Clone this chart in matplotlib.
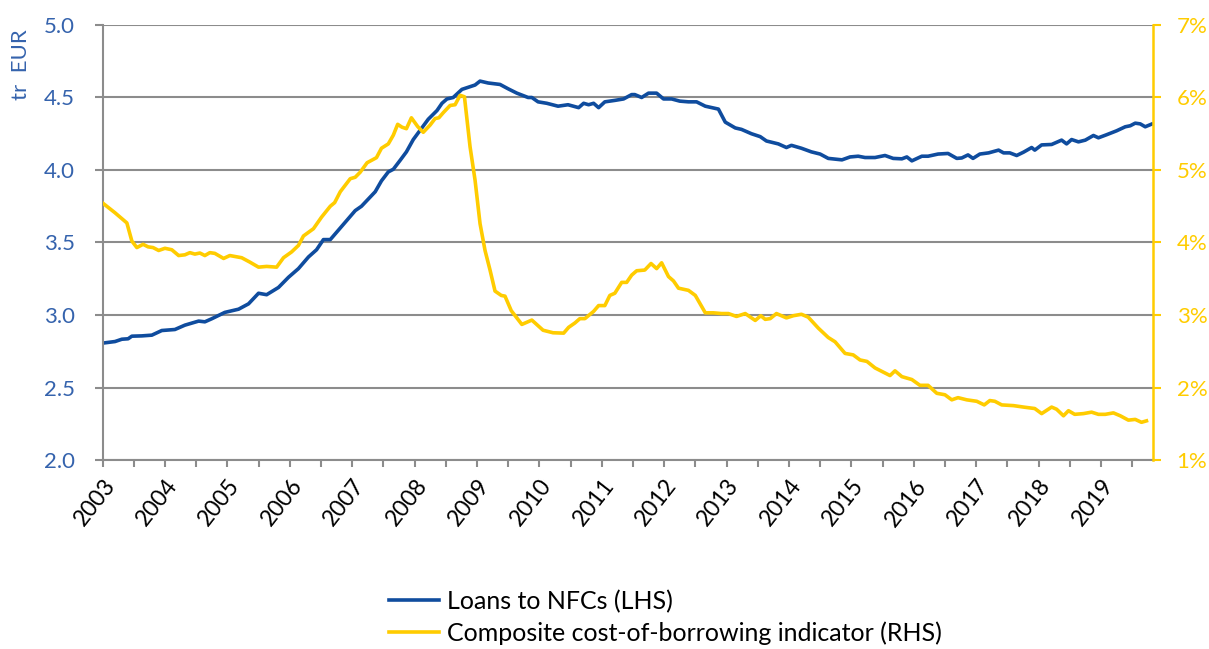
import matplotlib
matplotlib.use("Agg")
import matplotlib.pyplot as plt
from matplotlib.ticker import FixedLocator, MultipleLocator, FuncFormatter

# Loans to NFCs, EUR tr (LHS), decimal years
loans_t = [2003.0, 2003.2, 2003.31, 2003.41, 2003.47, 2003.63, 2003.79, 2003.95,
           2004.16, 2004.32, 2004.54, 2004.64, 2004.75, 2004.96, 2005.18, 2005.34,
           2005.5, 2005.63, 2005.82, 2005.98, 2006.14, 2006.3, 2006.43, 2006.54,
           2006.65, 2006.83, 2007.05, 2007.15, 2007.37, 2007.47, 2007.58, 2007.66,
           2007.77, 2007.87, 2007.98, 2008.11, 2008.22, 2008.36, 2008.44, 2008.52,
           2008.62, 2008.76, 2008.97, 2009.05, 2009.18, 2009.37, 2009.5, 2009.64,
           2009.82, 2009.88, 2009.98, 2010.12, 2010.3, 2010.46, 2010.63, 2010.71,
           2010.79, 2010.87, 2010.95, 2011.05, 2011.21, 2011.35, 2011.48, 2011.53,
           2011.64, 2011.75, 2011.88, 2011.99, 2012.12, 2012.25, 2012.39, 2012.52,
           2012.66, 2012.87, 2012.98, 2013.14, 2013.24, 2013.4, 2013.54, 2013.64,
           2013.83, 2013.96, 2014.04, 2014.2, 2014.36, 2014.5, 2014.63, 2014.85,
           2014.98, 2015.11, 2015.22, 2015.38, 2015.54, 2015.67, 2015.81, 2015.89,
           2015.97, 2016.13, 2016.23, 2016.39, 2016.55, 2016.69, 2016.77, 2016.87,
           2016.95, 2017.06, 2017.2, 2017.36, 2017.44, 2017.54, 2017.65, 2017.76,
           2017.89, 2017.94, 2018.05, 2018.21, 2018.37, 2018.45, 2018.53, 2018.64,
           2018.75, 2018.88, 2018.96, 2019.09, 2019.25, 2019.39, 2019.47, 2019.55,
           2019.63, 2019.71, 2019.81]
loans_v = [2.806, 2.817, 2.833, 2.836, 2.854, 2.856, 2.861, 2.893,
           2.90, 2.93, 2.958, 2.953, 2.974, 3.018, 3.04, 3.077,
           3.15, 3.14, 3.19, 3.26, 3.32, 3.40, 3.45, 3.52,
           3.52, 3.61, 3.72, 3.75, 3.85, 3.925, 3.987, 4.005,
           4.067, 4.125, 4.21, 4.286, 4.35, 4.41, 4.46, 4.49,
           4.50, 4.556, 4.586, 4.613, 4.60, 4.59, 4.56, 4.53,
           4.50, 4.50, 4.47, 4.46, 4.44, 4.45, 4.43, 4.46,
           4.45, 4.46, 4.43, 4.47, 4.48, 4.49, 4.52, 4.52,
           4.50, 4.53, 4.53, 4.49, 4.49, 4.475, 4.47, 4.47,
           4.44, 4.42, 4.33, 4.29, 4.28, 4.25, 4.23, 4.20,
           4.18, 4.155, 4.17, 4.15, 4.125, 4.11, 4.08, 4.07,
           4.09, 4.095, 4.086, 4.086, 4.10, 4.08, 4.077, 4.09,
           4.063, 4.095, 4.095, 4.11, 4.114, 4.08, 4.083, 4.104,
           4.08, 4.11, 4.118, 4.137, 4.118, 4.118, 4.10, 4.123,
           4.155, 4.137, 4.173, 4.176, 4.206, 4.18, 4.21, 4.194,
           4.206, 4.238, 4.222, 4.243, 4.27, 4.298, 4.305, 4.323,
           4.318, 4.298, 4.316]

# Composite cost-of-borrowing indicator, % (RHS)
cbi_t = [2003.0, 2003.2, 2003.39, 2003.47, 2003.55, 2003.65, 2003.73, 2003.81,
         2003.9, 2004.0, 2004.11, 2004.22, 2004.32, 2004.4, 2004.48, 2004.56,
         2004.64, 2004.72, 2004.8, 2004.94, 2005.04, 2005.23, 2005.36, 2005.5,
         2005.63, 2005.79, 2005.9, 2006.03, 2006.14, 2006.22, 2006.38, 2006.51,
         2006.65, 2006.72, 2006.81, 2006.97, 2007.05, 2007.13, 2007.24, 2007.39,
         2007.47, 2007.58, 2007.66, 2007.73, 2007.8, 2007.87, 2007.95, 2008.05,
         2008.14, 2008.25, 2008.33, 2008.39, 2008.46, 2008.57, 2008.65, 2008.73,
         2008.8, 2008.89, 2008.97, 2009.05, 2009.13, 2009.21, 2009.29, 2009.39,
         2009.45, 2009.55, 2009.72, 2009.88, 2010.06, 2010.22, 2010.39, 2010.47,
         2010.57, 2010.65, 2010.73, 2010.87, 2010.95, 2011.05, 2011.13, 2011.21,
         2011.32, 2011.4, 2011.48, 2011.56, 2011.69, 2011.79, 2011.88, 2011.96,
         2012.07, 2012.15, 2012.23, 2012.39, 2012.5, 2012.66, 2012.79, 2012.92,
         2013.03, 2013.16, 2013.3, 2013.46, 2013.55, 2013.62, 2013.7, 2013.8,
         2013.96, 2014.07, 2014.2, 2014.31, 2014.47, 2014.63, 2014.74, 2014.9,
         2015.03, 2015.14, 2015.25, 2015.38, 2015.54, 2015.62, 2015.7, 2015.81,
         2015.97, 2016.1, 2016.23, 2016.37, 2016.5, 2016.61, 2016.71, 2016.85,
         2017.01, 2017.13, 2017.22, 2017.3, 2017.41, 2017.6, 2017.76, 2017.94,
         2018.05, 2018.21, 2018.29, 2018.4, 2018.48, 2018.58, 2018.72, 2018.85,
         2018.96, 2019.07, 2019.2, 2019.31, 2019.44, 2019.55, 2019.65, 2019.73]
cbi_v = [4.546, 4.41, 4.27, 4.02, 3.93, 3.975, 3.94, 3.93,
         3.89, 3.92, 3.90, 3.82, 3.83, 3.86, 3.84, 3.855,
         3.82, 3.86, 3.85, 3.78, 3.82, 3.79, 3.73, 3.66,
         3.67, 3.66, 3.79, 3.87, 3.96, 4.09, 4.19, 4.35,
         4.50, 4.55, 4.70, 4.88, 4.90, 4.97, 5.10, 5.17,
         5.30, 5.36, 5.48, 5.63, 5.59, 5.57, 5.72, 5.60,
         5.52, 5.62, 5.71, 5.72, 5.79, 5.89, 5.90, 6.03,
         6.01, 5.32, 4.86, 4.26, 3.89, 3.62, 3.33, 3.27,
         3.26, 3.06, 2.87, 2.93, 2.79, 2.755, 2.75, 2.83,
         2.89, 2.95, 2.95, 3.05, 3.13, 3.13, 3.27, 3.30,
         3.45, 3.45, 3.55, 3.61, 3.62, 3.71, 3.64, 3.72,
         3.53, 3.47, 3.37, 3.34, 3.27, 3.03, 3.03, 3.02,
         3.02, 2.98, 3.02, 2.925, 2.99, 2.94, 2.95, 3.02,
         2.96, 2.99, 3.01, 2.97, 2.82, 2.69, 2.63, 2.47,
         2.45, 2.38, 2.36, 2.27, 2.20, 2.165, 2.23, 2.15,
         2.11, 2.03, 2.03, 1.92, 1.90, 1.83, 1.86, 1.83,
         1.81, 1.76, 1.82, 1.81, 1.76, 1.75, 1.73, 1.71,
         1.64, 1.73, 1.70, 1.61, 1.68, 1.63, 1.64, 1.66,
         1.63, 1.63, 1.65, 1.61, 1.55, 1.56, 1.52, 1.54]

years = list(range(2003, 2020))
left_ticks = [2.0, 2.5, 3.0, 3.5, 4.0, 4.5, 5.0]
right_ticks = [1, 2, 3, 4, 5, 6, 7]

BLUE = "#0F4C9E"
YELLOW = "#FFCC00"
LBLUE = "#3563AD"
GRID = "#8C8C8C"

plt.rcParams["font.family"] = ["Lato", "DejaVu Sans"]

fig = plt.figure(figsize=(12.09, 6.49), dpi=100)
ax = fig.add_axes([0.0848, 0.2912, 0.8689, 0.6703])
ax2 = ax.twinx()

l1, = ax.plot(loans_t, loans_v, color=BLUE, lw=2.6, label="Loans to NFCs (LHS)")
l2, = ax2.plot(cbi_t, cbi_v, color=YELLOW, lw=2.6,
               label="Composite cost-of-borrowing indicator (RHS)")

ax.set_xlim(2003.0, 2019.835)
ax.set_ylim(2.0, 5.0)
ax2.set_ylim(1, 7)

ax.yaxis.set_major_locator(FixedLocator(left_ticks))
ax.yaxis.set_major_formatter(FuncFormatter(lambda v, p: f"{v:.1f}"))
ax2.yaxis.set_major_locator(FixedLocator(right_ticks))
ax2.yaxis.set_major_formatter(FuncFormatter(lambda v, p: f"{v:.0f}%"))
ax.xaxis.set_major_locator(FixedLocator(years))
ax.xaxis.set_minor_locator(MultipleLocator(0.5))

ax.grid(axis="y", color=GRID, lw=1.5)
ax.set_axisbelow(True)

for a in (ax, ax2):
    a.spines["top"].set_visible(False)
ax.spines["right"].set_visible(False)
ax2.spines["left"].set_visible(False)
ax2.spines["bottom"].set_visible(False)
ax.spines["left"].set_color(GRID)
ax.spines["left"].set_linewidth(1.5)
ax.spines["bottom"].set_color(GRID)
ax.spines["bottom"].set_linewidth(1.5)
ax2.spines["right"].set_color(YELLOW)
ax2.spines["right"].set_linewidth(1.8)

ax.tick_params(axis="y", colors=GRID, labelcolor=LBLUE, labelsize=16,
               length=6, width=1.5, pad=14)
ax2.tick_params(axis="y", colors=YELLOW, labelcolor=YELLOW, labelsize=16,
                length=6, width=1.5, pad=11)
ax.tick_params(axis="x", which="both", colors=GRID, labelcolor="black",
               length=5, width=1.5)
ax.tick_params(axis="x", which="major", labelsize=16.5, pad=6)
for lab in ax.get_xticklabels():
    lab.set_rotation(52)
    lab.set_ha("right")
    lab.set_va("top")
    lab.set_rotation_mode("anchor")

fig.text(0.017, 0.9, "tr  EUR", rotation=90, color=LBLUE, fontsize=16,
         ha="center", va="center")

fig.legend(handles=[l1, l2], loc="upper left", bbox_to_anchor=(0.3135, 0.107),
           frameon=False, fontsize=18, handlelength=2.0, handletextpad=0.3,
           labelspacing=0.35, borderaxespad=0)

fig.savefig("out.png", dpi=100)
